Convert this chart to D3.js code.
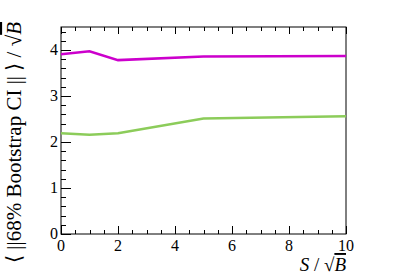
<!DOCTYPE html>
<html><head><meta charset="utf-8">
<script src="https://cdn.jsdelivr.net/npm/d3@7"></script>
<style>body{margin:0;background:#fff;} text{font-family:"Liberation Serif","Times New Roman",serif;}</style>
</head><body>
<svg id="c" width="407" height="277"></svg>
<script>
const xValues = [0, 1, 2, 5, 10];
const magentaValues = [3.91, 3.97, 3.78, 3.86, 3.87];
const greenValues = [2.19, 2.16, 2.19, 2.51, 2.56];
const xTicks = [0, 2, 4, 6, 8, 10];
const yTicks = [0, 1, 2, 3, 4];

const svg = d3.select("#c");
const L = 61, R = 346, T = 27, B = 234;
const x = d3.scaleLinear().domain([0, 10]).range([L, R]);
const y = d3.scaleLinear().domain([0, 4.5]).range([B, T]);

svg.append("rect").attr("x", L).attr("y", T).attr("width", R - L).attr("height", B - T)
  .attr("fill", "none").attr("stroke", "#000").attr("stroke-width", 1);

const g = svg.append("g").attr("stroke", "#000").attr("stroke-width", 1);
d3.range(0, 10.001, 0.5).forEach(v => {
  const major = Math.abs(v / 2 - Math.round(v / 2)) < 1e-6;
  const px = Math.round(x(v)) + 0.5;
  g.append("line").attr("x1", px).attr("x2", px).attr("y1", B).attr("y2", B - (major ? 8 : 4));
  g.append("line").attr("x1", px).attr("x2", px).attr("y1", T).attr("y2", T + (major ? 7 : 4));
});
d3.range(0, 4.5001, 0.2).forEach(v => {
  const major = Math.abs(v - Math.round(v)) < 1e-6;
  const py = Math.round(y(v)) + 0.5;
  g.append("line").attr("x1", L).attr("x2", L + (major ? 10 : 5)).attr("y1", py).attr("y2", py);
});

svg.selectAll(".xt").data(xTicks).join("text").attr("class", "xt")
  .attr("font-family", "Liberation Serif")
  .attr("x", d => x(d)).attr("y", B + 17).attr("text-anchor", "middle")
  .attr("font-size", 16).text(d => d);
svg.selectAll(".yt").data(yTicks).join("text").attr("class", "yt")
  .attr("font-family", "Liberation Serif")
  .attr("x", L - 3).attr("y", d => y(d) + 5).attr("text-anchor", "end")
  .attr("font-size", 16).text(d => d);

const line = d3.line().x(d => x(d[0])).y(d => y(d[1]));
svg.append("path").datum(xValues.map((v, i) => [v, greenValues[i]]))
  .attr("d", line).attr("fill", "none").attr("stroke", "#8ccc5a").attr("stroke-width", 2.5);
svg.append("path").datum(xValues.map((v, i) => [v, magentaValues[i]]))
  .attr("d", line).attr("fill", "none").attr("stroke", "#cc00cc").attr("stroke-width", 2.5);

const xl = svg.append("text").attr("x", R).attr("y", 271).attr("text-anchor", "end").attr("font-size", 19);
xl.append("tspan").attr("font-style", "italic").text("S");
xl.append("tspan").text(" /  √");
xl.append("tspan").attr("font-style", "italic").attr("text-decoration", "overline").text("B");

const yl = svg.append("text").attr("transform", `translate(21,${T - 5}) rotate(-90)`)
  .attr("text-anchor", "end").attr("font-size", 21);
yl.append("tspan").text("⟨ ||68% Bootstrap CI || ⟩ / √");
yl.append("tspan").attr("font-style", "italic").attr("text-decoration", "overline").text("B");
</script>
</body></html>
